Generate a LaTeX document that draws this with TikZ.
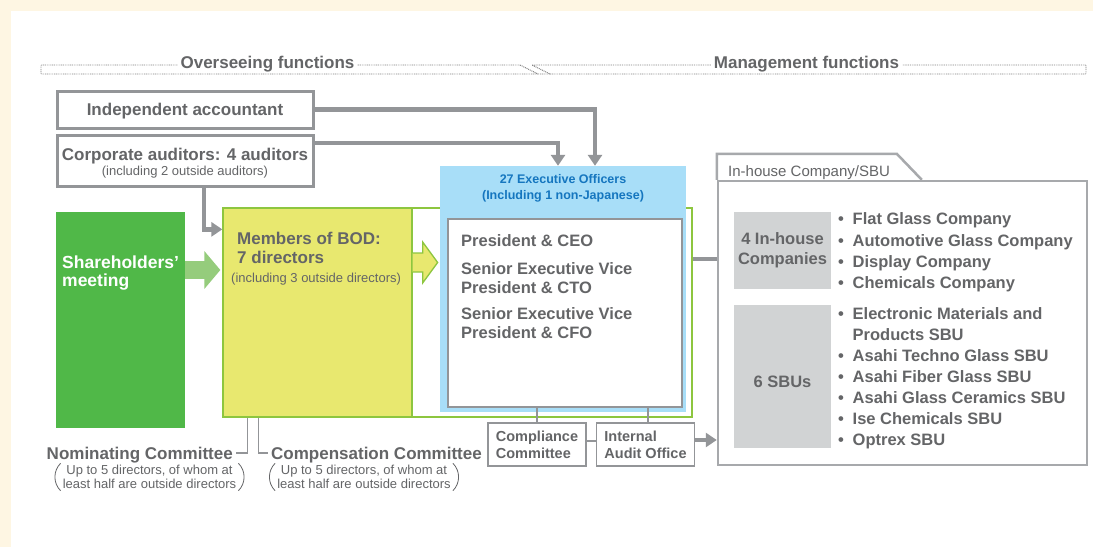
\documentclass[tikz,border=0pt]{standalone}
\usepackage{fontspec}
\setmainfont{Liberation Sans}
\usepackage{xcolor}
\usepackage{tikz}
\usetikzlibrary{arrows.meta}
\usetikzlibrary{calc}

\definecolor{cream}{HTML}{FEF6E3}
\definecolor{txtgray}{HTML}{646567}
\definecolor{linegray}{HTML}{939598}
\definecolor{sbugray}{HTML}{A7A9AC}
\definecolor{boxgray}{HTML}{D1D3D4}
\definecolor{shgreen}{HTML}{50B848}
\definecolor{argreen}{HTML}{95CC7C}
\definecolor{bodyellow}{HTML}{E8E86F}
\definecolor{framegreen}{HTML}{8DC63F}
\definecolor{eoblue}{HTML}{A8DEF8}
\definecolor{eotext}{HTML}{1576BF}

\newcommand{\bul}{\makebox[14.5pt][l]{\textbullet}}

\begin{document}
\begin{tikzpicture}[x=1pt,y=-1pt,
  lbl/.style={text=txtgray,font=\fontsize{17}{19}\selectfont\bfseries,inner sep=0pt,text height=12pt,text depth=0pt},
  item/.style={lbl,font=\fontsize{16.5}{19}\selectfont\bfseries,anchor=west},
  note/.style={text=txtgray,font=\fontsize{13}{13.5}\selectfont,inner sep=0pt},
  gbox/.style={draw=linegray,line width=3pt,fill=white,inner sep=0pt},
  cbox/.style={draw=linegray,line width=1.3pt,fill=white,inner sep=0pt,text=txtgray,
    font=\fontsize{14.5}{17}\selectfont\bfseries,align=left,minimum width=98pt,minimum height=43pt},
  graybox/.style={fill=boxgray,inner sep=0pt,minimum width=97pt,text=txtgray,
    font=\fontsize{16.5}{20}\selectfont\bfseries,align=center},
  garrow/.style={draw=linegray,line width=4.5pt,-{Triangle[width=14pt,length=11pt]}},
  gline/.style={draw=linegray,line width=4.5pt},
  tline/.style={draw=linegray,line width=1.3pt},
  paren/.style={draw=txtgray,line width=0.8pt},
  dots/.style={draw=gray,line width=0.9pt,dash pattern=on 0.9pt off 0.9pt}
]
\fill[cream] (0,0) rectangle (1093,547);
\fill[white] (11,11) rectangle (1093,547);
\useasboundingbox (0,0) rectangle (1093,547);

%% overseeing / management brackets
\draw[dots] (550,74) -- (41,74) -- (41,65) -- (520,65) -- (538,74);
\draw[dots] (532,65) -- (1086,65) -- (1086,74) -- (550,74) -- cycle;
\node[lbl,fill=white,inner xsep=3pt] (over) at (267.5,62) {Overseeing functions};
\node[lbl,fill=white,inner xsep=3pt] (mgmt) at (806.5,62) {Management functions};

\node[gbox,lbl,minimum width=256pt,minimum height=37pt] (acct) at (185,109.5) {Independent accountant};
\node[gbox,minimum width=256pt,minimum height=51pt] (aud) at (185,160.5) {};
\node[lbl] (audtitle) at (185,154) {Corporate auditors: 4 auditors};
\node[note] (audnote) at (185,172) {(including 2 outside auditors)};

\node[fill=shgreen,minimum width=129pt,minimum height=216pt,inner sep=0pt] (sh) at (120.5,320) {};
\node[lbl,text=white,anchor=west,font=\fontsize{17.5}{19}\selectfont\bfseries] (sht1) at (62,262) {Shareholders’};
\node[lbl,text=white,anchor=west,font=\fontsize{17.5}{19}\selectfont\bfseries] (sht2) at (62,280) {meeting};

\node[draw=framegreen,line width=1.3pt,minimum width=469pt,minimum height=209pt,inner sep=0pt] (grp) at (457.5,312.5) {};
\node[fill=eoblue,minimum width=246pt,minimum height=246pt,inner sep=0pt] (eo) at (563,289) {};
\node[text=eotext,font=\fontsize{12.5}{16}\selectfont\bfseries,align=center,inner sep=0pt] (eotitle) at (563,188) {27 Executive Officers\\(Including 1 non-Japanese)};
\node[fill=bodyellow,draw=framegreen,line width=1.3pt,minimum width=189pt,minimum height=209pt,inner sep=0pt] (bod) at (317.5,312.5) {};
\node[lbl,anchor=west] (bodt1) at (237,238) {Members of BOD:};
\node[lbl,anchor=west] (bodt2) at (237,257) {7 directors};
\node[note,anchor=west] (bodnote) at (231,279) {(including 3 outside directors)};

\node[draw=linegray,line width=1.3pt,fill=white,minimum width=234pt,minimum height=188pt,inner sep=0pt] (pres) at (565,313) {};
\foreach \y/\t [count=\i] in {240/President \& CEO, 268/Senior Executive Vice, 287/President \& CTO, 313/Senior Executive Vice, 332/President \& CFO}
    \node[item] (pres\i) at (461,\y) {\t};

%% arrows into the board
\draw[argreen,line width=18pt,-{Triangle[width=37pt,length=16pt]}] (sh.east |- 0,270) -- ($(bod.west |- 0,270)+(-2,0)$);
\fill[bodyellow] (bod.east |- 0,253) -- ++(10,0) -- ++(0,-11) -- ++(15,20.5) -- ++(-15,20.5) -- ++(0,-11) -- (bod.east |- 0,272) -- cycle;
\draw[framegreen,line width=1.3pt] (bod.east |- 0,253) -- ++(10,0) -- ++(0,-11) -- ++(15,20.5) -- ++(-15,20.5) -- ++(0,-11) -- (bod.east |- 0,272);
\draw[garrow] ($(aud.south)+(19,0)$) |- ($(bod.north west)+(0,22)$);
\draw[garrow] (acct.east) -| ($(eo.north)+(32,0)$);
\draw[garrow] ($(aud.east)+(0,-17.5)$) -| ($(eo.north)+(-5,0)$);

\node[cbox] (comp) at (537,444.5) {Compliance\\Committee};
\node[cbox] (audit) at (645.5,444.5) {Internal\\Audit Office};
\draw[tline] (comp.north) -- (comp.north |- pres.south);
\draw[tline] ([xshift=2.5pt]audit.north) -- ([xshift=2.5pt]audit.north |- pres.south);
\draw[tline] ([yshift=3.5pt]comp.east) -- ([yshift=3.5pt]audit.west);

%% in-house company / sbu
\node[draw=sbugray,line width=2.5pt,minimum width=369pt,minimum height=284pt,inner sep=0pt] (sbu) at (902.5,323) {};
\draw[sbugray,line width=2.5pt] (sbu.north west) -- ++(0,-26) -- ++(180,0) -- ++(25,26);
\node[text=txtgray,font=\fontsize{15}{17}\selectfont,anchor=west,inner sep=0pt] (sbut) at (728,173) {In-house Company/SBU};
\node[graybox,minimum height=77pt] (ihc) at (782.5,250.5) {4 In-house\\Companies};
\node[graybox,minimum height=143pt] (sbus) at (782.5,376.5) {};
\node[lbl,font=\fontsize{16.5}{19}\selectfont\bfseries] (sbust) at (782.5,381) {6 SBUs};
\foreach \y/\t [count=\i] in {218/\bul Flat Glass Company, 240/\bul Automotive Glass Company,
    261/\bul Display Company, 282/\bul Chemicals Company, 313/\bul Electronic Materials and,
    334/\hspace*{14.5pt}Products SBU, 355/\bul Asahi Techno Glass SBU, 376/\bul Asahi Fiber Glass SBU,
    397/\bul Asahi Glass Ceramics SBU, 418/\bul Ise Chemicals SBU, 439/\bul Optrex SBU}
    \node[item] (unit\i) at (838,\y) {\t};

\draw[gline] (grp.east |- 0,259) -- (sbu.west |- 0,259);
\draw[garrow] ([yshift=4.5pt]audit.east) -- ([yshift=4.5pt]audit.east -| sbu.west);

%% committees
\node[lbl,anchor=east,inner xsep=3pt] (nom) at (236,453) {Nominating Committee};
\node[lbl,anchor=west,inner xsep=3pt] (cpc) at (268,453) {Compensation Committee};
\draw[tline] ($(bod.south west)+(25,0)$) |- (nom.east);
\draw[tline] ($(bod.south west)+(36,0)$) |- (cpc.west);
\node[note,align=center] (nomnote) at (149.5,477) {Up to 5 directors, of whom at\\least half are outside directors};
\node[note,align=center] (cpcnote) at (364,477) {Up to 5 directors, of whom at\\least half are outside directors};
\foreach \n in {nomnote,cpcnote} {
  \draw[paren] ($(\n.north west)+(-2,-2)$) to[bend right=45] ($(\n.south west)+(-2,2)$);
  \draw[paren] ($(\n.north east)+(2,-2)$) to[bend left=45] ($(\n.south east)+(2,2)$);
}
\end{tikzpicture}
\end{document}
